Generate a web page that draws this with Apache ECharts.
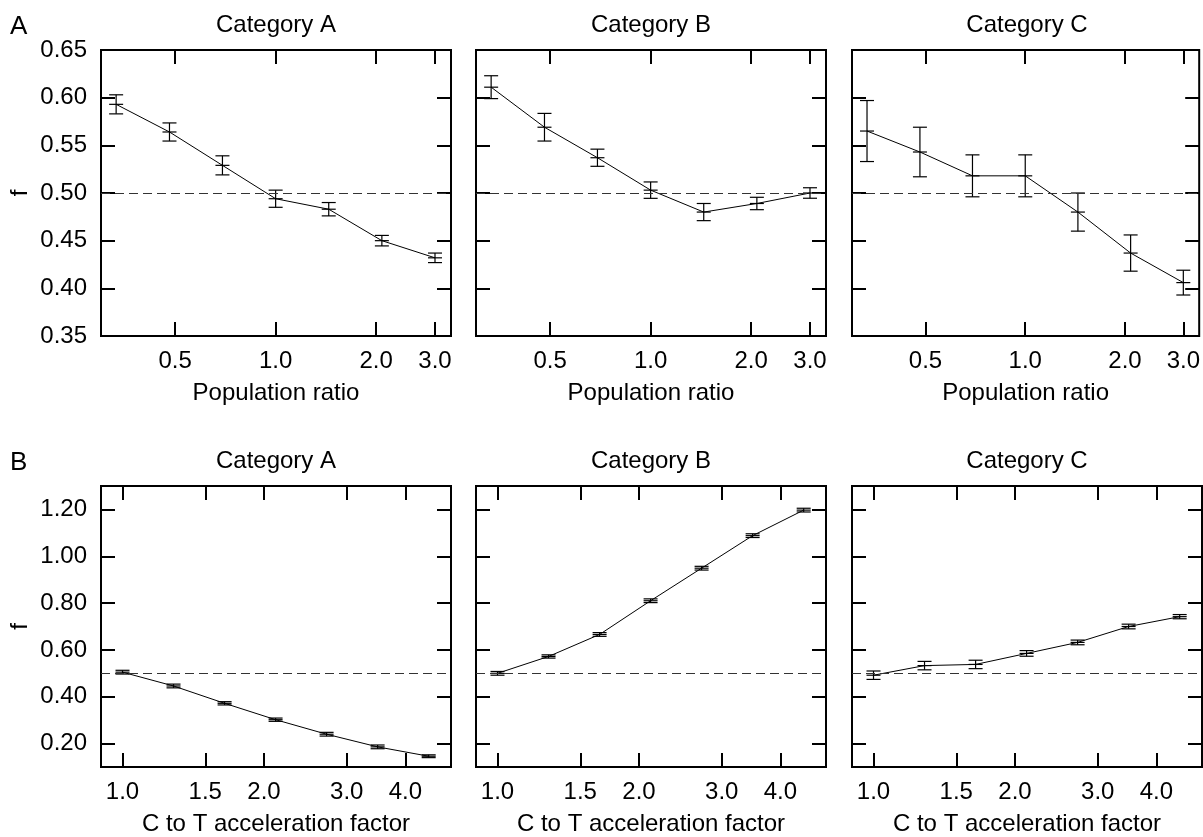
<!DOCTYPE html>
<html>
<head>
<meta charset="utf-8">
<title>f vs population ratio and C to T acceleration factor</title>
<script src="https://cdn.jsdelivr.net/npm/echarts@6.0.0/dist/echarts.min.js"></script>
<style>
  html, body { margin: 0; padding: 0; background: #fff; }
  #chart { width: 1203px; height: 837px; }
</style>
</head>
<body>
<div id="chart"></div>
<script>
// x values (log scale)
const popRatio = [0.333, 0.481, 0.693, 1.0, 1.442, 2.080, 3.0];
const accelFactor = [1.0, 1.284, 1.649, 2.117, 2.718, 3.490, 4.482];

const categories = ['Category A', 'Category B', 'Category C'];

// tick labels
const popXTicks = [0.5, 1.0, 2.0, 3.0];
const accelXTicks = [1.0, 1.5, 2.0, 3.0, 4.0];
const popYTicks = [0.35, 0.40, 0.45, 0.50, 0.55, 0.60, 0.65];
const accelYTicks = [0.20, 0.40, 0.60, 0.80, 1.00, 1.20];

// panel A: f vs population ratio
const popA = [0.593, 0.564, 0.529, 0.494, 0.483, 0.450, 0.432];
const popAErr = [0.010, 0.0095, 0.010, 0.009, 0.007, 0.0055, 0.005];
const popB = [0.611, 0.569, 0.537, 0.503, 0.480, 0.489, 0.500];
const popBErr = [0.012, 0.0145, 0.009, 0.0086, 0.009, 0.0065, 0.0055];
const popC = [0.565, 0.543, 0.518, 0.518, 0.480, 0.437, 0.406];
const popCErr = [0.032, 0.026, 0.022, 0.022, 0.020, 0.019, 0.013];

// panel B: f vs C to T acceleration factor
const accelA = [0.505, 0.446, 0.372, 0.302, 0.240, 0.186, 0.146];
const accelAErr = [0.008, 0.008, 0.007, 0.007, 0.008, 0.008, 0.006];
const accelB = [0.500, 0.572, 0.666, 0.810, 0.949, 1.088, 1.197];
const accelBErr = [0.008, 0.007, 0.008, 0.008, 0.008, 0.008, 0.008];
const accelC = [0.492, 0.533, 0.538, 0.585, 0.632, 0.700, 0.742];
const accelCErr = [0.018, 0.018, 0.018, 0.012, 0.010, 0.010, 0.009];

const FONT = '"Liberation Sans", Arial, sans-serif';
const colLeft = [101, 476, 852];
const panelW = 350;

const rows = [
  {
    letter: 'A', top: 50, height: 286, titleY: 25, letterY: 27,
    xs: popRatio, xMin: 0.3, xMax: 3.35, xTicks: popXTicks,
    yMin: 0.35, yMax: 0.65, yTicks: popYTicks,
    xName: 'Population ratio',
    ys: [popA, popB, popC], errs: [popAErr, popBErr, popCErr]
  },
  {
    letter: 'B', top: 486, height: 287, titleY: 461, letterY: 463,
    xs: accelFactor, xMin: 0.9, xMax: 5.0, xTicks: accelXTicks,
    yMin: 0.1, yMax: 1.3, yTicks: accelYTicks,
    xName: 'C to T acceleration factor',
    ys: [accelA, accelB, accelC], errs: [accelAErr, accelBErr, accelCErr]
  }
];

const tickStyle = (values) => ({
  show: true, inside: true, length: 14, customValues: values,
  lineStyle: { color: '#000', width: 2 }
});

// vertical bar with caps, plus a short crossbar at the point itself
function errorBars(params, api) {
  const x = api.value(0), y = api.value(1), e = api.value(2);
  const top = api.coord([x, y + e]);
  const bot = api.coord([x, y - e]);
  const mid = api.coord([x, y]);
  const hw = 7;
  const style = { stroke: '#000', lineWidth: 1.2 };
  const seg = (x1, y1, x2, y2) => ({ type: 'line', shape: { x1, y1, x2, y2 }, style });
  return {
    type: 'group',
    children: [
      seg(top[0], top[1], bot[0], bot[1]),
      seg(top[0] - hw, top[1], top[0] + hw, top[1]),
      seg(bot[0] - hw, bot[1], bot[0] + hw, bot[1]),
      seg(mid[0] - hw, mid[1], mid[0] + hw, mid[1])
    ]
  };
}

const grid = [], xAxis = [], yAxis = [], series = [], graphic = [];

rows.forEach((row, r) => {
  graphic.push({
    type: 'text', x: 10, y: row.letterY,
    style: { text: row.letter, font: '26px ' + FONT, fill: '#000', textVerticalAlign: 'middle' }
  });

  categories.forEach((cat, c) => {
    const p = grid.length;
    grid.push({
      left: colLeft[c], top: row.top, width: panelW, height: row.height,
      show: true, borderColor: '#000', borderWidth: 2
    });

    graphic.push({
      type: 'text', x: colLeft[c] + panelW / 2, y: row.titleY,
      style: { text: cat, font: '24px ' + FONT, fill: '#000', textAlign: 'center', textVerticalAlign: 'middle' }
    });

    const xBase = {
      gridIndex: p, type: 'log', logBase: 10, min: row.xMin, max: row.xMax,
      axisLine: { show: false }, splitLine: { show: false },
      axisTick: tickStyle(row.xTicks)
    };
    xAxis.push(Object.assign({}, xBase, {
      position: 'bottom',
      axisLabel: {
        customValues: row.xTicks, formatter: v => Number(v).toFixed(1),
        margin: 13, fontSize: 24, fontFamily: FONT, color: '#000'
      },
      name: row.xName, nameLocation: 'middle', nameGap: 45,
      nameTextStyle: { fontSize: 24, fontFamily: FONT, color: '#000' }
    }));
    xAxis.push(Object.assign({}, xBase, { position: 'top', axisLabel: { show: false } }));

    const yBase = {
      gridIndex: p, type: 'value', min: row.yMin, max: row.yMax,
      axisLine: { show: false }, splitLine: { show: false },
      axisTick: tickStyle(row.yTicks)
    };
    yAxis.push(Object.assign({}, yBase, {
      position: 'left',
      axisLabel: {
        show: c === 0, customValues: row.yTicks, formatter: v => Number(v).toFixed(2),
        margin: 14, fontSize: 24, fontFamily: FONT, color: '#000'
      },
      name: c === 0 ? 'f' : '', nameLocation: 'middle', nameGap: 69,
      nameTextStyle: { fontSize: 24, fontFamily: FONT, color: '#000' }
    }));
    yAxis.push(Object.assign({}, yBase, { position: 'right', axisLabel: { show: false } }));

    series.push({
      type: 'line', xAxisIndex: 2 * p, yAxisIndex: 2 * p,
      data: row.xs.map((x, i) => [x, row.ys[c][i]]),
      symbol: 'none', silent: true,
      lineStyle: { color: '#000', width: 1 },
      markLine: {
        silent: true, symbol: ['none', 'none'], label: { show: false },
        lineStyle: { color: '#333', width: 1, type: [9, 5] },
        data: [{ yAxis: 0.5 }]
      }
    });
    series.push({
      type: 'custom', xAxisIndex: 2 * p, yAxisIndex: 2 * p,
      data: row.xs.map((x, i) => [x, row.ys[c][i], row.errs[c][i]]),
      encode: { x: 0, y: 1 },
      renderItem: errorBars, silent: true
    });
  });
});

const chart = echarts.init(document.getElementById('chart'), null, { renderer: 'canvas' });
chart.setOption({
  animation: false,
  backgroundColor: '#fff',
  textStyle: { fontFamily: FONT },
  grid, xAxis, yAxis, series, graphic
});
</script>
</body>
</html>
